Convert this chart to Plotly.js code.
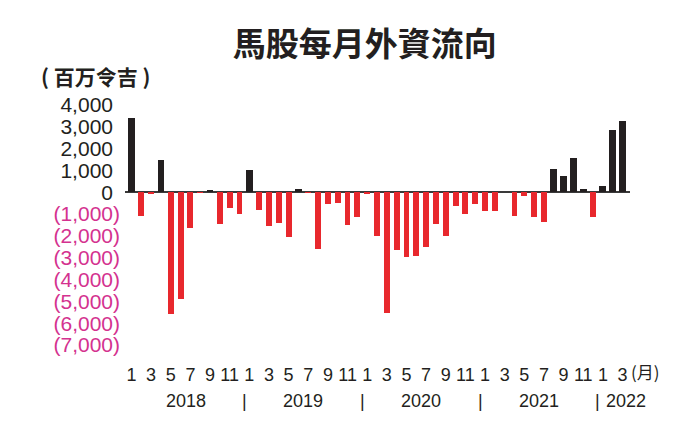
<!DOCTYPE html>
<html>
<head>
<meta charset="utf-8">
<script src="https://cdn.plot.ly/plotly-3.0.1.min.js"></script>
<style>
html,body{margin:0;padding:0;background:#fff;}
#chart{width:687px;height:427px;}
</style>
</head>
<body>
<div id="chart"></div>
<script>
// Monthly foreign fund flow into Malaysian equities (RM million), Jan 2018 - Mar 2022
var years = ['2018', '2019', '2020', '2021', '2022'];
var flow2018 = [3400, -1100, -80, 1500, -5600, -4900, -1650, -50, 110, -1450, -720, -1000];
var flow2019 = [1000, -800, -1550, -1400, -2050, 160, -50, -2600, -550, -480, -1500, -1150];
var flow2020 = [-70, -2000, -5550, -2650, -2950, -2900, -2500, -1450, -2000, -650, -1000, -550];
var flow2021 = [-850, -870, 0, -1100, -160, -1150, -1350, 1050, 750, 1550, 160, -1130];
var flow2022 = [300, 2850, 3250];
var monthTickLabels = ['1', '3', '5', '7', '9', '11'];
var yTickValues = [4000, 3000, 2000, 1000, 0, -1000, -2000, -3000, -4000, -5000, -6000, -7000];

var title = '馬股每月外資流向';
var unitLabel = '( 百万令吉 )';
var monthUnit = '(月)';

var series = [flow2018, flow2019, flow2020, flow2021, flow2022];
var values = [], months = [];
series.forEach(function (arr) {
  arr.forEach(function (v, mi) { values.push(v); months.push(mi + 1); });
});
var xs = values.map(function (v, i) { return i; });

var BLACK = '#231f20', RED = '#e8282d', MAGENTA = '#d4328f';
var colors = values.map(function (v) { return v >= 0 ? BLACK : RED; });
var widths = values.map(function (v) { return v >= 0 ? 0.7 : 0.6; });

// month ticks (odd months)
var tickvals = [], ticktext = [];
months.forEach(function (m, i) {
  var idx = monthTickLabels.indexOf(String(m));
  if (idx >= 0) { tickvals.push(i); ticktext.push(monthTickLabels[idx]); }
});

function fmt(v) {
  var s = Math.abs(v).toLocaleString('en-US');
  return v < 0 ? '<span style="color:' + MAGENTA + '">(' + s + ')</span>'
               : s + '<span style="color:rgba(0,0,0,0)">)</span>';
}
var yTickText = yTickValues.map(fmt);

var FONT = 'Liberation Sans, Arial, sans-serif';
var CJK = 'Noto Sans CJK TC, Noto Sans CJK SC, sans-serif';
var TXT = '#231f20';

var annotations = [];
var start = 0;
years.forEach(function (y, yi) {
  var n = series[yi].length;
  if (n === 12) {
    annotations.push({x: start + 5.5, y: 0, xref: 'x', yref: 'paper', yshift: -68,
      text: y, showarrow: false, font: {family: FONT, size: 18, color: TXT}});
  } else {
    annotations.push({x: start - 0.5, y: 0, xref: 'x', yref: 'paper', yshift: -68, xshift: 6,
      xanchor: 'left', text: y, showarrow: false, font: {family: FONT, size: 18, color: TXT}});
  }
  if (yi > 0) {
    annotations.push({x: start - 0.5, y: 0, xref: 'x', yref: 'paper', yshift: -68,
      text: '|', showarrow: false, font: {family: FONT, size: 18, color: TXT}});
  }
  start += n;
});
annotations.push({x: values.length - 1, y: 0, xref: 'x', yref: 'paper', yshift: -41, xshift: 6,
  xanchor: 'left', text: monthUnit, showarrow: false, font: {family: CJK, size: 17, color: TXT}});
annotations.push({
  xref: 'paper', yref: 'paper',
  x: (95 - 125) / (687 - 125 - 57), y: 1 + (105 - 76) / (427 - 105 - 82),
  text: unitLabel, showarrow: false, xanchor: 'center', yanchor: 'middle',
  font: {family: CJK, size: 21, color: TXT, weight: 'bold'}
});

var trace = {
  type: 'bar', x: xs, y: values, width: widths,
  marker: {color: colors, line: {width: 0}},
  hoverinfo: 'y'
};

var layout = {
  width: 687, height: 427,
  margin: {l: 125, r: 57, t: 105, b: 82},
  paper_bgcolor: '#fff', plot_bgcolor: '#fff',
  showlegend: false,
  title: {text: '<b>' + title + '</b>', x: 0.531, xanchor: 'center', y: 0.895, yanchor: 'middle',
    font: {family: CJK, size: 33, color: TXT}},
  xaxis: {range: [-0.66, 50.76], tickmode: 'array', tickvals: tickvals, ticktext: ticktext,
    showgrid: false, zeroline: false, showline: false, ticks: '', ticklen: 0,
    ticklabelstandoff: 17,
    tickfont: {family: FONT, size: 18, color: TXT}, fixedrange: true},
  yaxis: {range: [-7000, 4000], tickmode: 'array', tickvals: yTickValues, ticktext: yTickText,
    showgrid: false, zeroline: true, zerolinecolor: '#3a3a3a', zerolinewidth: 2, showline: false,
    ticks: '', ticklabelstandoff: 4,
    tickfont: {family: FONT, size: 21, color: TXT}, fixedrange: true},
  annotations: annotations,
  bargap: 0
};

Plotly.newPlot('chart', [trace], layout, {displayModeBar: false, staticPlot: true});
</script>
</body>
</html>
